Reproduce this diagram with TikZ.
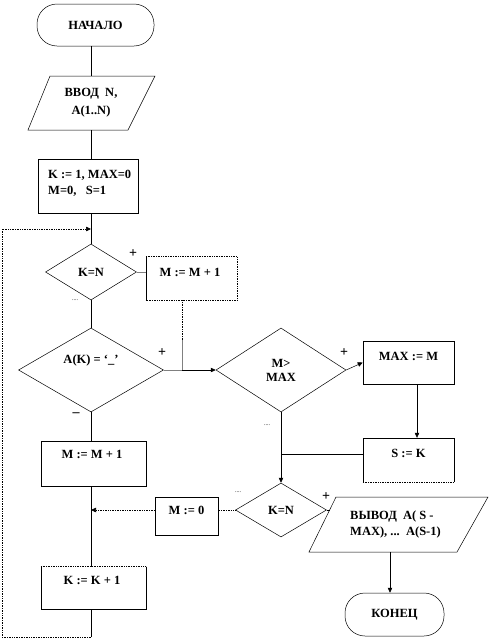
\documentclass[tikz,border=0pt]{standalone}
\usepackage{fontspec}
\setmainfont{Liberation Serif}
\usetikzlibrary{shapes.geometric,arrows.meta}
\begin{document}
\begin{tikzpicture}[x=1pt,y=-1pt,
 txt/.style={font=\bfseries\fontsize{12.5}{16}\selectfont, inner sep=0, align=center},
 blk/.style={draw, line width=0.5pt, inner sep=0},
 ln/.style={line width=0.5pt},
 dl/.style={line width=0.7pt, densely dotted},
 gl/.style={line width=1pt, gray},
 arr/.style={-{Triangle[length=5pt,width=4.5pt]}},
 pm/.style={font=\bfseries\fontsize{14}{14}\selectfont, inner sep=0},
 dots/.style={font=\fontsize{6}{6}\selectfont, inner sep=0},
 dia/.style={draw, diamond, inner sep=0, line width=0.5pt, font=\bfseries\fontsize{12.5}{14}\selectfont, align=center},
]
\useasboundingbox (0,0) rectangle (494,640);

% start
\node[blk, rounded corners=20, minimum width=117, minimum height=42, txt] (start) at (95.5,25) {НАЧАЛО};
% input
\node[txt, minimum height=54] (inp) at (91,103) {ВВОД\ \ N,\\[2pt]A(1..N)};
\draw[ln] (50,76) -- (155,76) -- (128,130) -- (28,130) -- cycle;
\draw[ln] (inp.north |- start.south) -- (inp.north);
% init
\node[blk, minimum width=100, minimum height=54] (init) at (88,186) {};
\node[txt, align=left, anchor=west] (initt) at (48,183) {K := 1, MAX=0\\M=0,\ \ \ S=1};
\draw[ln] (inp.south) -- (inp.south |- init.north);

% K=N
\node[dia, minimum width=91, minimum height=56] (c1) at (91,272) {K=N};
\draw[ln] (init.south -| c1.north) -- (c1.north);
% M := M+1 (right)
\node[inner sep=0, minimum width=91, minimum height=43] (mmr) at (191.5,278.5) {};
\draw[dl] (mmr.north west) -- (mmr.north east) -- (mmr.south east) -- (mmr.south west);
\draw[ln] (mmr.south west) -- (mmr.north west);
\node[txt] (mmrt) at (190,272) {M := M + 1};
\draw[gl] (c1.east) -- (c1.east -| mmr.west);

% A(K)
\node[dia, minimum width=145, minimum height=84] (c2) at (91,370) {};
\node[txt] (c2t) at (91,360) {A(K) = ‘\_’};
\draw[ln] (c1.south) -- (c2.north);

% M > MAX
\node[dia, minimum width=130, minimum height=84] (c3) at (281,370) {M>\\MAX};
\coordinate (j1) at (182,370);
\coordinate (j1m) at (182,340);
\draw[dl] (mmr.south -| j1) -- (j1m);
\draw[gl] (j1m) -- (j1);
\draw[gl] (c2.east) -- (j1);
\draw[ln, arr] (j1) -- (c3.west);

% MAX := M
\node[blk, minimum width=91, minimum height=43] (mx) at (408.5,362.5) {};
\node[txt] (mxt) at (408.5,356) {MAX := M};
\draw[ln, arr] (c3.east) -- (mx.west);
% S := K
\node[inner sep=0, minimum width=91, minimum height=44] (sk) at (408.5,460) {};
\draw[ln] (sk.south east) -- (sk.north east) -- (sk.north west) -- (sk.south west);
\draw[dl] (sk.south west) -- (sk.south east);
\node[txt] (skt) at (408.5,453) {S := K};
\draw[ln, arr] ([xshift=8.5pt]mx.south) -- ([xshift=8.5pt]mx.south |- sk.north);

% K=N (2)
\node[dia, minimum width=91, minimum height=54] (c4) at (281,510) {K=N};
\draw[ln, arr] (c3.south) -- (c4.north);
\draw[ln] ([yshift=6pt]sk.west) -- ([yshift=6pt]sk.west -| c3.south);

% M := 0
\node[blk, minimum width=63, minimum height=38] (m0) at (186.5,516) {};
\node[txt] (m0t) at (186.5,510) {M := 0};
\draw[dl] (c4.west) -- (c4.west -| m0.east);

% output
\node[txt, align=left, anchor=west] (outt) at (350,524) {ВЫВОД\ \ A( S -\\MAX), ...\ \ A(S-1)};
\draw[ln] (336,497) -- (488,497) -- (457,552) -- (309,552) -- cycle;
\coordinate (outl) at (330,510);
\coordinate (outb) at (390,552);
\draw[ln] (c4.east) -- (outl);
% end
\node[blk, rounded corners=20, minimum width=99, minimum height=43, txt] (fin) at (394.5,614.5) {КОНЕЦ};
\draw[ln, arr] (outb) -- (outb |- fin.north);

% left column
\node[blk, minimum width=105, minimum height=45] (m1) at (93.5,463.5) {};
\node[txt] (m1t) at (92,454) {M := M + 1};
\node[inner sep=0, minimum width=105, minimum height=42] (inc) at (93.5,588) {};
\draw[ln] (inc.north east) -- (inc.south east) -- (inc.south west) -- (inc.north west);
\draw[dl] (inc.north west) -- (inc.north east);
\node[txt] (inct) at (92,580) {K := K + 1};
\draw[ln] (c2.south) -- (c2.south |- m1.north);
\draw[ln] (m1.south -| c2.south) -- (inc.north -| c2.south);
\draw[dl, arr] (c4.west -| m0.west) -- (c4.west -| c2.south);

% loop back
\coordinate (lp1) at (91,637);
\coordinate (lp2) at (2,637);
\coordinate (lp3) at (2,229);
\draw[ln] (inc.south -| c2.south) -- (lp1);
\draw[dl, arr] (lp1) -- (lp2) -- (lp3) -- (lp3 -| c1.north);

% marks
\node[pm] (p1) at (133,254) {+};
\node[pm] (p2) at (162,353) {+};
\node[pm] (p3) at (344,353) {+};
\node[pm] (p4) at (326,497) {+};
\node[pm] (mi) at (76,415) {–};
\node[dots] (d1) at (75,300) {....};
\node[dots] (d2) at (267,425) {....};
\node[dots] (d3) at (238,492) {....};
\end{tikzpicture}
\end{document}
